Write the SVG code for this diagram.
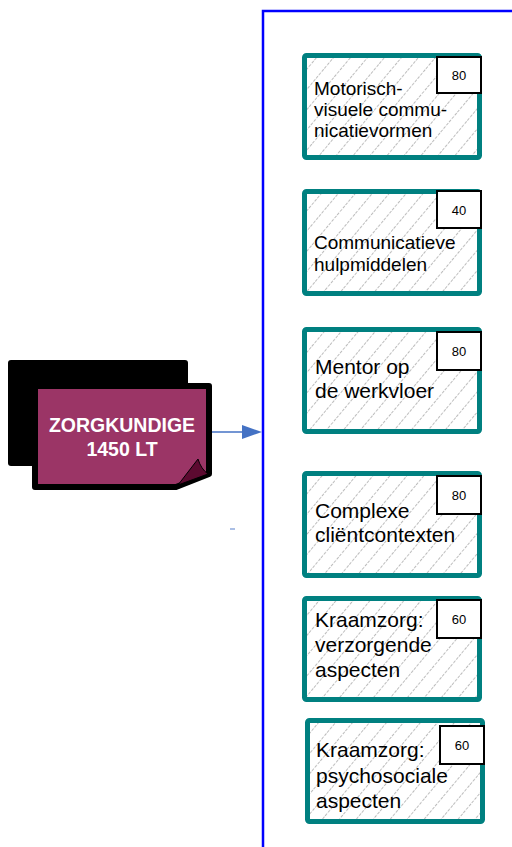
<svg xmlns="http://www.w3.org/2000/svg" width="512" height="847" viewBox="0 0 512 847">
<defs>
<pattern id="hatch" patternUnits="userSpaceOnUse" width="13" height="13" patternTransform="rotate(-50)">
<rect width="13" height="13" fill="#fff"/>
<line x1="0" y1="6.5" x2="13" y2="6.5" stroke="#bcbcbc" stroke-width="1.2" stroke-dasharray="3 1.5"/>
</pattern>
</defs>
<style>
.box{fill:url(#hatch);stroke:#008080;stroke-width:5}
.num{fill:#fff;stroke:#000;stroke-width:2}
.t{font-family:"Liberation Sans",Arial,sans-serif;fill:#000}
.s{font-size:19px}
.l{font-size:21px}
.n{font-size:13px;text-anchor:middle}
.w{font-size:19.5px;font-weight:bold;fill:#fff;text-anchor:middle}
</style>
<rect width="512" height="847" fill="#fff"/>
<g id="connectors">
<polyline points="263,847 263,11 512,11" fill="none" stroke="#0000FF" stroke-width="2.5"/>
<line x1="210" y1="432" x2="244" y2="432" stroke="#4472C4" stroke-width="1.3"/>
<path d="M242,425 L262,432 L242,439 Z" fill="#4472C4"/>
<line x1="230" y1="529" x2="235" y2="529" stroke="#8FAADC" stroke-width="1.5"/>
</g>
<g id="zorgkundige">
<rect x="8" y="360" width="180" height="106" rx="3" fill="#000"/>
<path d="M35,386 L209,386 L209,474 L176,487 L35,487 Z" fill="#9B3566" stroke="#000" stroke-width="6" stroke-linejoin="round"/>
<path d="M178,485 L198,459 Q201,469 208,474 Z" fill="#5C0A30" stroke="#000" stroke-width="1"/>
<text class="t w" x="122" y="432">ZORGKUNDIGE</text>
<text class="t w" x="122" y="456">1450 LT</text>
</g>
<g id="n1">
<rect class="box" x="304.5" y="55.5" width="175" height="102" rx="2"/>
<rect class="num" x="437" y="57" width="44" height="36"/>
<text class="t n" x="459" y="80">80</text>
<text class="t s" x="314" y="95">Motorisch-</text>
<text class="t s" x="314" y="116">visuele commu-</text>
<text class="t s" x="314" y="137">nicatievormen</text>
</g>
<g id="n2">
<rect class="box" x="304.5" y="191.5" width="175" height="102" rx="2"/>
<rect class="num" x="437" y="191" width="44" height="37"/>
<text class="t n" x="459" y="215">40</text>
<text class="t s" x="314" y="249">Communicatieve</text>
<text class="t s" x="314" y="271">hulpmiddelen</text>
</g>
<g id="n3">
<rect class="box" x="304.5" y="329.5" width="175" height="102" rx="2"/>
<rect class="num" x="437" y="332" width="44" height="38"/>
<text class="t n" x="459" y="356">80</text>
<text class="t l" x="315" y="374">Mentor op</text>
<text class="t l" x="315" y="398">de werkvloer</text>
</g>
<g id="n4">
<rect class="box" x="304.5" y="473.5" width="175" height="102" rx="2"/>
<rect class="num" x="437" y="476" width="44" height="38"/>
<text class="t n" x="459" y="500">80</text>
<text class="t l" x="315" y="518">Complexe</text>
<text class="t l" x="315" y="542">cliëntcontexten</text>
</g>
<g id="n5">
<rect class="box" x="304.5" y="598.5" width="175" height="101" rx="2"/>
<rect class="num" x="437" y="600" width="44" height="38"/>
<text class="t n" x="459" y="624">60</text>
<text class="t l" x="315" y="627">Kraamzorg:</text>
<text class="t l" x="315" y="652">verzorgende</text>
<text class="t l" x="315" y="677">aspecten</text>
</g>
<g id="n6">
<rect class="box" x="307.5" y="720.5" width="175" height="101" rx="2"/>
<rect class="num" x="440" y="726" width="44" height="38"/>
<text class="t n" x="462" y="750">60</text>
<text class="t l" x="316" y="757">Kraamzorg:</text>
<text class="t l" x="316" y="783">psychosociale</text>
<text class="t l" x="316" y="808">aspecten</text>
</g>
</svg>
